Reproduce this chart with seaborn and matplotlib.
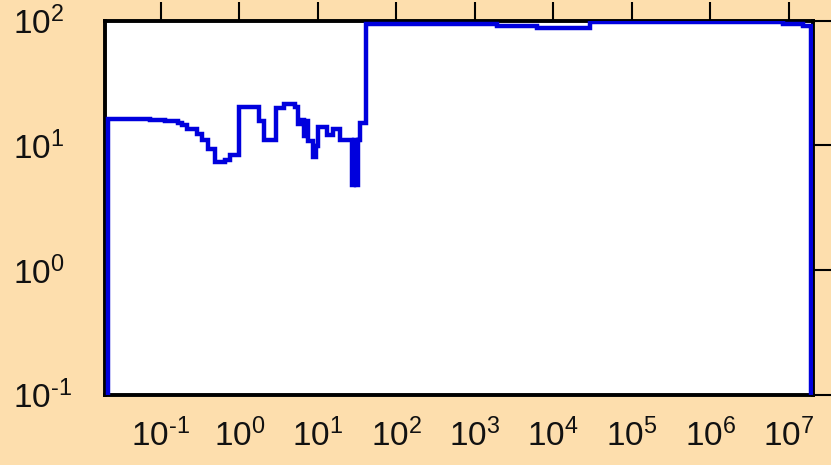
import matplotlib
matplotlib.use("Agg")
import matplotlib.pyplot as plt
import seaborn as sns

# Step curve: left bin edge (energy) and the percentage held until the next edge
energy_edges = [
    0.0211, 0.0211, 0.0403, 0.0724, 0.1125, 0.1647, 0.184, 0.216, 0.2876,
    0.3332, 0.397, 0.4875, 0.654, 0.7575, 0.99, 1.775, 2.055, 2.922,
    3.696, 5.104, 5.574, 6.27, 6.646, 7.047, 7.475, 8.657, 9.45,
    10.17, 13.05, 15.57, 19.11, 27.2, 28.84, 30.57, 32.43, 34.38,
    41.0, 1916.0, 6197.0, 29360.0, 8.46e6, 1.52e7, 1.925e7,
]
percent = [
    0.05, 16.33, 16.18, 15.97, 15.68, 15.11, 14.48, 13.6, 12.33,
    11.04, 9.34, 7.39, 7.62, 8.36, 20.43, 15.68, 11.04, 19.94,
    21.35, 20.32, 14.84, 15.97, 11.88, 15.6, 10.83, 8.06, 9.88,
    14.04, 12.11, 13.53, 11.04, 4.8, 11.04, 4.8, 11.04, 15.11,
    93.4, 90.0, 87.5, 96.9, 95.1, 90.8, 0.05,
]

x_exponents = [-1, 0, 1, 2, 3, 4, 5, 6, 7]
y_exponents = [-1, 0, 1, 2]


def decade_label(e):
    # short hyphen for negative exponents
    txt = str(e).replace("-", "\u2010")
    return r"$\mathdefault{10^{%s}}$" % txt


x_ticks = [10.0 ** e for e in x_exponents]
x_tick_labels = [decade_label(e) for e in x_exponents]
y_ticks = [10.0 ** e for e in y_exponents]
y_tick_labels = [decade_label(e) for e in y_exponents]

sns.set_style("white")
plt.rcParams["font.family"] = ["Liberation Sans", "DejaVu Sans"]
plt.rcParams["mathtext.fontset"] = "custom"
plt.rcParams["mathtext.rm"] = "Liberation Sans"
plt.rcParams["mathtext.default"] = "regular"
plt.rcParams["axes.unicode_minus"] = False

bg = "#FDDEAD"
fig, ax = plt.subplots(figsize=(8.31, 4.65), dpi=100)
fig.patch.set_facecolor(bg)
ax.set_facecolor("white")
fig.subplots_adjust(left=0.1267, right=0.9783, bottom=0.1516, top=0.9553)

ax.set_xscale("log")
ax.set_yscale("log")

sns.lineplot(x=energy_edges, y=percent, ax=ax, estimator=None, sort=False,
             drawstyle="steps-post", color="#0000DD", linewidth=3.2,
             solid_joinstyle="miter", zorder=3)

ax.set_xlim(0.0195, 2.04e7)
ax.set_ylim(0.1, 100)

ax.set_xticks(x_ticks, x_tick_labels)
ax.set_yticks(y_ticks, y_tick_labels)
ax.minorticks_off()

for side in ["left", "right", "top", "bottom"]:
    ax.spines[side].set_visible(True)
    ax.spines[side].set_color("black")
    ax.spines[side].set_linewidth(2.8)

ax.tick_params(axis="both", which="major", direction="out", length=13.7,
               width=1.5, color="black", top=True, right=True,
               labeltop=False, labelright=False, labelsize=24,
               labelcolor="#111111")
ax.tick_params(axis="x", pad=4)
ax.tick_params(axis="y", pad=52.5)
for lbl in ax.get_yticklabels():
    lbl.set_horizontalalignment("left")

ax.set_xlabel("")
ax.set_ylabel("")

fig.savefig("out.png", dpi=100, facecolor=bg)
